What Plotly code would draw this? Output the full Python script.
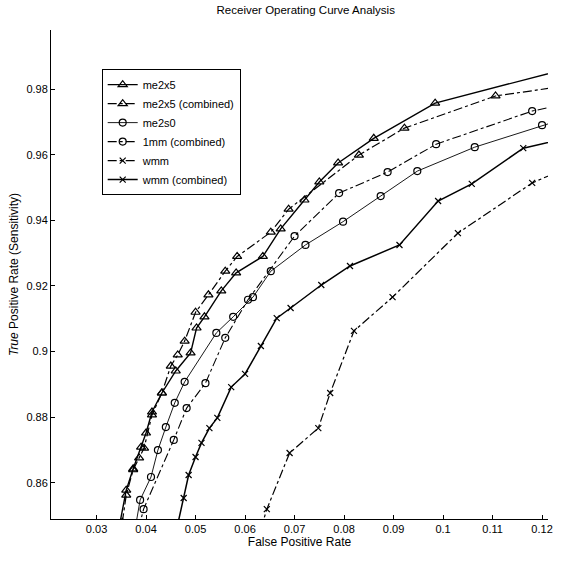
import plotly.graph_objects as go

# ---- data ----
me2x5_x = [0.0345, 0.036, 0.0374, 0.039, 0.040, 0.0412, 0.0432, 0.046, 0.049, 0.0502, 0.0518,
           0.0552, 0.0582, 0.0636, 0.0672, 0.072, 0.075, 0.0788, 0.086, 0.0984, 0.125]
me2x5_y = [0.846, 0.8578, 0.8643, 0.8709, 0.8752, 0.8816, 0.8874, 0.8941, 0.8996, 0.9072, 0.9106,
           0.9185, 0.9240, 0.9290, 0.9374, 0.9462, 0.9517, 0.9575, 0.9650, 0.9757, 0.9862]

me2x5c_x = [0.0352, 0.036, 0.0374, 0.0386, 0.0396, 0.0412, 0.0432, 0.045, 0.0464, 0.0478, 0.050,
            0.0526, 0.056, 0.0584, 0.0652, 0.0688, 0.083, 0.0922, 0.1106, 0.125]
me2x5c_y = [0.848, 0.8563, 0.8640, 0.8676, 0.8706, 0.8807, 0.8874, 0.8956, 0.8990, 0.9032, 0.9120,
            0.9173, 0.9245, 0.9290, 0.9364, 0.9434, 0.9599, 0.9681, 0.9779, 0.9810]

me2s0_x = [0.0378, 0.0388, 0.041, 0.0424, 0.044, 0.0458, 0.0478, 0.0542, 0.0576, 0.0616, 0.0652,
           0.0722, 0.0798, 0.0874, 0.0948, 0.1064, 0.120, 0.125]
me2s0_y = [0.846, 0.8548, 0.8618, 0.8700, 0.8770, 0.8844, 0.8908, 0.9057, 0.9106, 0.9166, 0.9245,
           0.9325, 0.9396, 0.9474, 0.9550, 0.9623, 0.9690, 0.9712]

mm1c_x = [0.0385, 0.0395, 0.0456, 0.0482, 0.052, 0.056, 0.0606, 0.070, 0.079, 0.0888, 0.0986, 0.118, 0.125]
mm1c_y = [0.846, 0.8520, 0.8731, 0.8828, 0.8904, 0.9042, 0.9158, 0.9352, 0.9483, 0.9547, 0.9632, 0.9733, 0.9755]

wmm_x = [0.0632, 0.0644, 0.069, 0.0748, 0.0772, 0.082, 0.0898, 0.103, 0.118, 0.125]
wmm_y = [0.846, 0.8520, 0.8691, 0.8767, 0.8874, 0.9063, 0.9166, 0.9361, 0.9514, 0.9560]

wmmc_x = [0.0462, 0.0476, 0.0486, 0.050, 0.0512, 0.0528, 0.0544, 0.0572, 0.060, 0.0632, 0.0664,
          0.0692, 0.0754, 0.0812, 0.0912, 0.099, 0.1058, 0.1162, 0.125]
wmmc_y = [0.846, 0.8554, 0.8624, 0.8679, 0.8722, 0.8767, 0.8798, 0.8892, 0.8932, 0.9017, 0.9102,
          0.9133, 0.9203, 0.9261, 0.9325, 0.9459, 0.9511, 0.9620, 0.9650]

x_ticks = [0.03, 0.04, 0.05, 0.06, 0.07, 0.08, 0.09, 0.1, 0.11, 0.12]
x_ticklabels = ["0.03", "0.04", "0.05", "0.06", "0.07", "0.08", "0.09", "0.1", "0.11", "0.12"]
y_ticks = [0.86, 0.88, 0.9, 0.92, 0.94, 0.96, 0.98]
y_ticklabels = ["0.86", "0.88", "0.9", "0.92", "0.94", "0.96", "0.98"]

FONT = "Liberation Sans, Arial, Helvetica, sans-serif"

series = [
    ("me2x5", me2x5_x, me2x5_y, "solid", 1.4, "triangle-up-open", 8),
    ("me2x5 (combined)", me2x5c_x, me2x5c_y, "dashdot", 1.2, "triangle-up-open", 8),
    ("me2s0", me2s0_x, me2s0_y, "solid", 0.9, "circle-open", 7),
    ("1mm (combined)", mm1c_x, mm1c_y, "dashdot", 1.1, "circle-open", 7),
    ("wmm", wmm_x, wmm_y, "dashdot", 1.2, "x-thin-open", 6),
    ("wmm (combined)", wmmc_x, wmmc_y, "solid", 1.5, "x-thin-open", 6),
]

fig = go.Figure()
for name, xs, ys, dash, lw, sym, ms in series:
    fig.add_trace(go.Scatter(
        x=xs, y=ys, name=name, mode="lines+markers",
        line=dict(color="black", width=lw, dash=dash),
        marker=dict(symbol=sym, size=ms, color="black", line=dict(color="black", width=1.2)),
        cliponaxis=True,
    ))

fig.update_layout(
    width=561, height=562,
    margin=dict(l=51, r=8, t=30, b=43),
    paper_bgcolor="white", plot_bgcolor="white",
    font=dict(family=FONT, size=11, color="black"),
    title=dict(text="Receiver Operating Curve Analysis", x=0.545, xanchor="center",
               y=0.982, yanchor="middle", font=dict(size=11.5, family=FONT)),
    showlegend=True,
    legend=dict(x=0.102, y=0.92, xanchor="left", yanchor="top",
                bgcolor="white", bordercolor="black", borderwidth=1,
                font=dict(size=11, family=FONT), tracegroupgap=0, itemwidth=30),
    xaxis=dict(range=[0.0208, 0.1212], tickvals=x_ticks, ticktext=x_ticklabels,
               ticks="inside", ticklen=4, tickcolor="black", showgrid=False, zeroline=False,
               showline=True, linecolor="black", linewidth=1, mirror=False,
               title=dict(text="False Positive Rate", font=dict(size=12), standoff=3)),
    yaxis=dict(range=[0.849, 0.998], tickvals=y_ticks, ticktext=y_ticklabels,
               ticks="inside", ticklen=4, tickcolor="black", showgrid=False, zeroline=False,
               showline=True, linecolor="black", linewidth=1, mirror=False,
               title=dict(text="<i>True</i> Positive Rate (Sensitivity)", font=dict(size=12), standoff=5)),
)

fig.write_html("out.html")
